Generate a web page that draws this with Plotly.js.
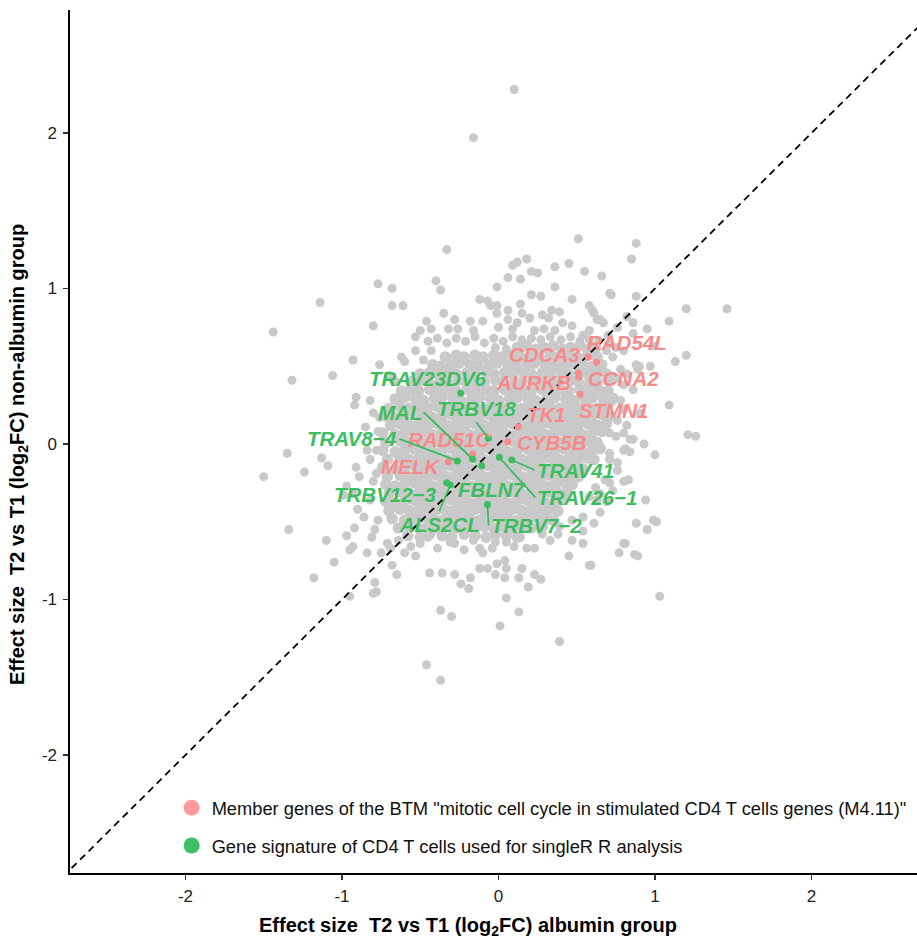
<!DOCTYPE html>
<html><head><meta charset="utf-8">
<script src="https://cdn.plot.ly/plotly-3.0.1.min.js"></script>
<style>html,body{margin:0;padding:0;background:#fff}#chart{width:917px;height:940px}</style>
</head><body><div id="chart"></div>
<script>
// ---- dense core of genes (x: albumin log2FC, y: non-albumin log2FC) ----
const coreUpper = [
[0.12,0.62],[0.18,0.63],[0.24,0.61],[0.29,0.62],[0.35,0.63],[0.41,0.61],[0.46,0.62],[0.52,0.63],[0.57,0.61],[0.62,0.62],
[-0.34,0.56],[-0.27,0.57],[-0.22,0.56],[-0.15,0.57],[-0.10,0.56],[-0.03,0.57],[0.02,0.56],[0.09,0.57],[0.14,0.56],[0.21,0.57],[0.26,0.56],[0.33,0.57],[0.38,0.56],[0.45,0.57],[0.50,0.56],[0.57,0.57],[0.63,0.56],
[-0.42,0.51],[-0.37,0.50],[-0.30,0.51],[-0.25,0.52],[-0.18,0.51],[-0.13,0.50],[-0.06,0.51],[-0.01,0.52],[0.06,0.51],[0.11,0.50],[0.18,0.51],[0.23,0.52],[0.30,0.51],[0.35,0.50],[0.42,0.51],[0.47,0.52],[0.54,0.51],[0.60,0.50],[0.66,0.51],
[-0.50,0.45],[-0.44,0.46],[-0.39,0.45],[-0.32,0.46],[-0.27,0.45],[-0.20,0.46],[-0.15,0.45],[-0.08,0.46],[-0.03,0.45],[0.04,0.46],[0.09,0.45],[0.16,0.46],[0.21,0.45],[0.28,0.46],[0.33,0.45],[0.40,0.46],[0.45,0.45],[0.52,0.46],[0.57,0.45],[0.63,0.46],[0.69,0.45],
[-0.56,0.40],[-0.50,0.41],[-0.45,0.40],[-0.38,0.39],[-0.33,0.40],[-0.26,0.41],[-0.21,0.40],[-0.14,0.39],[-0.09,0.40],[-0.02,0.41],[0.03,0.40],[0.10,0.39],[0.15,0.40],[0.22,0.41],[0.27,0.40],[0.34,0.39],[0.39,0.40],[0.46,0.41],[0.51,0.40],[0.58,0.39],[0.63,0.40],[0.70,0.41],
[-0.62,0.34],[-0.56,0.35],[-0.51,0.34],[-0.44,0.35],[-0.39,0.34],[-0.32,0.35],[-0.27,0.34],[-0.20,0.35],[-0.15,0.34],[-0.08,0.35],[-0.03,0.34],[0.04,0.35],[0.09,0.34],[0.16,0.35],[0.21,0.34],[0.28,0.35],[0.33,0.34],[0.40,0.35],[0.45,0.34],[0.52,0.35],[0.57,0.34],[0.64,0.35],[0.70,0.34],
[-0.66,0.29],[-0.60,0.30],[-0.53,0.29],[-0.48,0.28],[-0.41,0.29],[-0.36,0.30],[-0.29,0.29],[-0.24,0.28],[-0.17,0.29],[-0.12,0.30],[-0.05,0.29],[0.00,0.28],[0.07,0.29],[0.12,0.30],[0.19,0.29],[0.24,0.28],[0.31,0.29],[0.36,0.30],[0.43,0.29],[0.48,0.28],[0.55,0.29],[0.60,0.30],[0.67,0.29],[0.72,0.28],
[-0.70,0.23],[-0.63,0.24],[-0.57,0.23],[-0.51,0.24],[-0.45,0.23],[-0.39,0.24],[-0.33,0.23],[-0.27,0.24],[-0.21,0.23],[-0.15,0.24],[-0.09,0.23],[-0.03,0.24],[0.03,0.23],[0.09,0.24],[0.15,0.23],[0.21,0.24],[0.27,0.23],[0.33,0.24],[0.39,0.23],[0.45,0.24],[0.51,0.23],[0.57,0.24],[0.63,0.23],[0.69,0.24],
[-0.72,0.18],[-0.66,0.17],[-0.60,0.18],[-0.54,0.19],[-0.48,0.18],[-0.42,0.17],[-0.36,0.18],[-0.30,0.19],[-0.24,0.18],[-0.18,0.17],[-0.12,0.18],[-0.06,0.19],[0.00,0.18],[0.06,0.17],[0.12,0.18],[0.18,0.19],[0.24,0.18],[0.30,0.17],[0.36,0.18],[0.42,0.19],[0.48,0.18],[0.54,0.17],[0.60,0.18],[0.66,0.19],[0.72,0.18]
];
const coreMiddle = [
[-0.69,0.12],[-0.63,0.13],[-0.57,0.12],[-0.51,0.13],[-0.45,0.12],[-0.39,0.13],[-0.33,0.12],[-0.27,0.13],[-0.21,0.12],[-0.15,0.13],[-0.09,0.12],[-0.03,0.13],[0.03,0.12],[0.09,0.13],[0.15,0.12],[0.21,0.13],[0.27,0.12],[0.33,0.13],[0.39,0.12],[0.45,0.13],[0.51,0.12],[0.57,0.13],[0.63,0.12],[0.69,0.13],
[-0.74,0.07],[-0.66,0.06],[-0.60,0.07],[-0.54,0.08],[-0.48,0.07],[-0.42,0.06],[-0.36,0.07],[-0.30,0.08],[-0.24,0.07],[-0.18,0.06],[-0.12,0.07],[-0.06,0.08],[0.00,0.07],[0.06,0.06],[0.12,0.07],[0.18,0.08],[0.24,0.07],[0.30,0.06],[0.36,0.07],[0.42,0.08],[0.48,0.07],[0.54,0.06],[0.60,0.07],[0.66,0.08],
[-0.72,0.01],[-0.63,0.02],[-0.57,0.01],[-0.51,0.02],[-0.45,0.01],[-0.39,0.02],[-0.33,0.01],[-0.27,0.02],[-0.21,0.01],[-0.15,0.02],[-0.09,0.01],[-0.03,0.02],[0.03,0.01],[0.09,0.02],[0.15,0.01],[0.21,0.02],[0.27,0.01],[0.33,0.02],[0.39,0.01],[0.45,0.02],[0.51,0.01],[0.57,0.02],[0.63,0.01],
[-0.74,-0.04],[-0.66,-0.05],[-0.60,-0.04],[-0.54,-0.03],[-0.48,-0.04],[-0.42,-0.05],[-0.36,-0.04],[-0.30,-0.03],[-0.24,-0.04],[-0.18,-0.05],[-0.12,-0.04],[-0.06,-0.03],[0.00,-0.04],[0.06,-0.05],[0.12,-0.04],[0.18,-0.03],[0.24,-0.04],[0.30,-0.05],[0.36,-0.04],[0.42,-0.03],[0.48,-0.04],[0.54,-0.05],[0.60,-0.04],[0.65,-0.03],
[-0.71,-0.10],[-0.63,-0.09],[-0.57,-0.10],[-0.51,-0.09],[-0.45,-0.10],[-0.39,-0.09],[-0.33,-0.10],[-0.27,-0.09],[-0.21,-0.10],[-0.15,-0.09],[-0.09,-0.10],[-0.03,-0.09],[0.03,-0.10],[0.09,-0.09],[0.15,-0.10],[0.21,-0.09],[0.27,-0.10],[0.33,-0.09],[0.39,-0.10],[0.45,-0.09],[0.51,-0.10],[0.57,-0.09],[0.61,-0.10],
[-0.74,-0.15],[-0.66,-0.16],[-0.60,-0.15],[-0.54,-0.14],[-0.48,-0.15],[-0.42,-0.16],[-0.36,-0.15],[-0.30,-0.14],[-0.24,-0.15],[-0.18,-0.16],[-0.12,-0.15],[-0.06,-0.14],[0.00,-0.15],[0.06,-0.16],[0.12,-0.15],[0.18,-0.14],[0.24,-0.15],[0.30,-0.16],[0.36,-0.15],[0.42,-0.14],[0.48,-0.15],[0.54,-0.16]
];
const coreLower = [
[-0.71,-0.21],[-0.63,-0.20],[-0.57,-0.21],[-0.51,-0.20],[-0.45,-0.21],[-0.39,-0.20],[-0.33,-0.21],[-0.27,-0.20],[-0.21,-0.21],[-0.15,-0.20],[-0.09,-0.21],[-0.03,-0.20],[0.03,-0.21],[0.09,-0.20],[0.15,-0.21],[0.21,-0.20],[0.27,-0.21],[0.33,-0.20],[0.39,-0.21],[0.45,-0.20],[0.51,-0.21],
[-0.72,-0.26],[-0.66,-0.27],[-0.60,-0.26],[-0.54,-0.25],[-0.48,-0.26],[-0.42,-0.27],[-0.36,-0.26],[-0.30,-0.25],[-0.24,-0.26],[-0.18,-0.27],[-0.12,-0.26],[-0.06,-0.25],[0.00,-0.26],[0.06,-0.27],[0.12,-0.26],[0.18,-0.25],[0.24,-0.26],[0.30,-0.27],[0.36,-0.26],[0.42,-0.25],[0.47,-0.26],
[-0.70,-0.32],[-0.63,-0.31],[-0.57,-0.32],[-0.51,-0.31],[-0.45,-0.32],[-0.39,-0.31],[-0.33,-0.32],[-0.27,-0.31],[-0.21,-0.32],[-0.15,-0.31],[-0.09,-0.32],[-0.03,-0.31],[0.03,-0.32],[0.09,-0.31],[0.15,-0.32],[0.21,-0.31],[0.27,-0.32],[0.33,-0.31],[0.39,-0.32],[0.44,-0.31],
[-0.72,-0.37],[-0.66,-0.38],[-0.60,-0.37],[-0.54,-0.36],[-0.48,-0.37],[-0.42,-0.38],[-0.36,-0.37],[-0.30,-0.36],[-0.24,-0.37],[-0.18,-0.38],[-0.12,-0.37],[-0.06,-0.36],[0.00,-0.37],[0.06,-0.38],[0.12,-0.37],[0.18,-0.36],[0.24,-0.37],[0.30,-0.38],[0.36,-0.37],[0.41,-0.36],
[-0.70,-0.43],[-0.63,-0.42],[-0.57,-0.43],[-0.51,-0.42],[-0.45,-0.43],[-0.39,-0.42],[-0.33,-0.43],[-0.27,-0.42],[-0.21,-0.43],[-0.15,-0.42],[-0.09,-0.43],[-0.03,-0.42],[0.03,-0.43],[0.09,-0.42],[0.15,-0.43],[0.21,-0.42],[0.27,-0.43],[0.33,-0.42],[0.38,-0.43],
[-0.68,-0.48],[-0.60,-0.49],[-0.54,-0.48],[-0.48,-0.47],[-0.42,-0.48],[-0.36,-0.49],[-0.30,-0.48],[-0.24,-0.47],[-0.18,-0.48],[-0.12,-0.49],[-0.06,-0.48],[0.00,-0.47],[0.06,-0.48],[0.12,-0.49],[0.18,-0.48],[0.24,-0.47],[0.30,-0.48],[0.35,-0.49],
[-0.64,-0.54],[-0.57,-0.53],[-0.51,-0.54],[-0.45,-0.53],[-0.39,-0.54],[-0.33,-0.53],[-0.27,-0.54],[-0.21,-0.53],[-0.15,-0.54],[-0.09,-0.53],[-0.03,-0.54],[0.03,-0.53],[0.09,-0.54],[0.15,-0.53],[0.21,-0.54],[0.28,-0.53],
[-0.58,-0.59],[-0.50,-0.60],[-0.44,-0.58],[-0.36,-0.59],[-0.30,-0.60],[-0.22,-0.58],[-0.15,-0.59],[-0.08,-0.60],[-0.02,-0.58],[0.05,-0.59],[0.12,-0.60]
];
// ---- scattered genes around the core ----
const fringeGenes = [
[-0.50,0.73],[-0.46,0.79],[-0.43,0.74],[-0.35,0.84],[-0.28,0.80],[-0.18,0.79],[-0.10,0.79],[-0.01,0.84],[-0.53,0.69],[-0.32,0.74],[-0.26,0.74],[0.06,0.80],[0.12,0.78],[0.23,0.73],[0.29,0.74],[0.36,0.73],[0.47,0.76],[0.54,0.70],[0.58,0.73],[0.63,0.80],[0.67,0.78],[0.76,0.75],[0.82,0.82],[0.95,0.74],[0.06,0.86],[0.15,0.84],[0.20,0.81],[0.28,0.83],[0.34,0.86],[0.39,0.85],[0.32,0.81],[0.58,0.89],[0.60,0.86],[-0.12,0.93],[-0.07,0.92],[-0.05,0.89],[-0.01,0.89],[0.14,0.90],[0.41,0.78],[0.61,0.84],[0.65,0.80],
[-0.45,0.66],[-0.39,0.68],[-0.33,0.65],[-0.27,0.68],[-0.21,0.66],[-0.15,0.69],[-0.09,0.65],[-0.03,0.68],[0.03,0.66],[0.09,0.69],[0.15,0.67],[0.21,0.68],[0.27,0.67],[0.33,0.69],[0.40,0.67],[0.46,0.69],[0.52,0.66],[0.58,0.67],[0.64,0.66],[0.70,0.64],[0.70,0.70],[0.09,0.74],[-0.16,0.73],[0.00,0.75],[0.75,0.62],[-0.02,0.62],[0.05,0.61],
[-0.62,0.56],[-0.60,0.53],[-0.53,0.60],[-0.48,0.54],[-0.43,0.60],[-0.76,0.51],[-0.70,0.44],[-0.66,0.40],[-0.91,0.30],[-0.82,0.28],[-0.92,0.25],[-0.80,0.20],[-0.76,0.17],[-0.85,0.11],[-0.77,0.08],[-0.84,-0.04],[-0.78,-0.04],[-0.91,-0.15],[-0.78,-0.19],[-0.82,-0.10],[-0.93,-0.32],[-0.82,-0.36],[-0.97,-0.27],[-0.89,-0.21],[-0.80,-0.24],[-0.86,-0.47],[-0.77,-0.49],[-0.90,-0.42],[-0.92,-0.54],[-0.97,-0.59],[-0.79,-0.55],[-0.81,-0.60],[-0.93,-0.66],[-0.84,-0.70],[-0.71,-0.64],[-0.75,-0.70],[-0.69,-0.67],[-0.64,-0.62],
[-0.68,-0.78],[-0.65,-0.84],[-0.79,-0.89],[-0.78,-0.95],[-0.53,-0.72],[-0.44,-0.83],[-0.36,-0.83],[-0.28,-0.84],[-0.24,-0.90],[-0.19,-0.93],[-0.18,-0.86],[-0.12,-0.80],[-0.07,-0.80],[-0.01,-0.77],[0.04,-0.75],[0.05,-0.80],[-0.02,-0.84],[0.04,-0.86],[0.15,-0.80],[0.13,-0.86],[0.19,-0.92],[0.23,-0.84],[0.27,-0.87],
[-0.39,-0.67],[-0.31,-0.63],[-0.22,-0.68],[-0.12,-0.67],[-0.10,-0.70],[-0.04,-0.67],[-0.02,-0.63],[0.10,-0.66],[0.18,-0.67],[0.23,-0.67],[0.33,-0.62],[0.47,-0.62],[0.54,-0.64],[0.45,-0.72],[0.59,-0.78],[-0.50,-0.64],[-0.45,-0.60],[-0.56,-0.66],[-0.28,-0.64],[-0.16,-0.62],[0.05,-0.63],[0.14,-0.60],[0.28,-0.58],[0.38,-0.58],[-0.60,-0.70],
[0.63,-0.36],[0.69,-0.37],[0.65,-0.44],[0.54,-0.56],[0.47,-0.49],[0.39,-0.53],[0.71,-0.25],[0.76,-0.17],[0.80,-0.04],[0.71,-0.10],[0.54,-0.47],[0.61,-0.51],[0.80,-0.24],[0.73,-0.30],[0.65,-0.32],[0.68,-0.23],[0.58,-0.34],[0.62,-0.28],
[0.88,0.51],[0.90,0.50],[0.97,0.50],[0.99,0.63],[0.80,0.38],[0.86,0.35],[0.76,0.15],[0.80,0.22],[0.71,0.07],[0.71,-0.06],[0.76,-0.12],[0.84,0.03],[0.81,-0.03],[0.86,0.03],[0.84,-0.05],[0.80,0.07],[0.72,0.43],[0.78,0.48],[0.73,0.56],[0.69,0.60],[0.89,0.48],[0.86,0.71],[0.86,0.78],[0.74,0.30],[0.78,0.28],[0.76,0.42],[0.82,0.45],[0.80,0.60],[0.90,0.20],[0.82,0.12],[0.75,0.05]
];
const outlierGenes = [
[0.10,2.28],[-0.16,1.97],[0.51,1.32],[0.88,1.29],[-0.33,1.25],[0.85,1.19],[0.09,1.15],[0.12,1.17],[0.18,1.19],[0.36,1.14],[0.45,1.16],[0.21,1.11],[0.25,1.10],[0.55,1.11],[0.66,1.08],[-0.77,1.03],[-0.68,1.00],[-0.40,1.05],[-0.37,0.99],[-0.01,1.01],[0.06,1.07],[0.14,1.06],[0.36,1.01],[0.21,0.96],[0.27,0.95],[0.47,0.93],[0.72,0.96],[0.71,0.97],[0.88,0.95],[1.20,0.87],[1.46,0.87],[1.09,0.79],[-0.68,0.89],[-0.61,0.89],[-0.80,0.76],
[-1.44,0.72],[-1.14,0.91],[-0.93,0.54],[-1.06,0.44],[-1.32,0.41],[-1.35,-0.06],[-1.13,-0.09],[-1.09,-0.14],[-1.24,-0.18],[-1.50,-0.21],[-0.99,-0.33],[-1.34,-0.55],[-1.10,-0.62],[-1.18,-0.86],[-1.05,-0.76],[-0.95,-0.68],[-0.95,-0.98],[-0.80,-0.96],
[-0.46,-1.42],[-0.37,-1.52],[0.39,-1.27],[0.13,-1.08],[0.01,-1.17],[0.05,-0.99],[-0.37,-1.07],[-0.30,-1.11],
[0.77,-0.70],[0.81,-0.64],[0.89,-0.72],[0.87,-0.71],[1.03,-0.98],[1.01,-0.50],[0.94,-0.36],[0.83,-0.23],[0.93,0.00],[1.00,-0.07],[0.88,-0.51],[0.95,-0.55],[0.99,-0.49],[0.80,-0.64],[0.58,-0.78],
[1.13,0.53],[1.20,0.57],[1.09,0.25],[1.21,0.06],[1.26,0.05]
];
// ---- highlighted genes ----
const btmGenes = ['RAD54L','CDCA3','AURKB','CCNA2','STMN1','TK1','CYB5B','RAD51C','MELK'];
const btmX = [0.627,0.572,0.510,0.512,0.521,0.127,0.059,-0.165,-0.321];
const btmY = [0.525,0.559,0.457,0.431,0.320,0.111,0.015,-0.064,-0.114];
const cd4Genes = ['TRAV23DV6','TRBV18','MAL','TRAV8\u22124','FBLN7','TRAV26\u22121','TRAV41','TRBV12\u22123','ALS2CL','TRBV7\u22122'];
const cd4X = [-0.242,-0.065,-0.165,-0.263,-0.107,0.005,0.084,-0.331,-0.308,-0.070];
const cd4Y = [0.326,0.037,-0.098,-0.109,-0.140,-0.086,-0.103,-0.249,-0.264,-0.389];
const legendNames = ['Member genes of the BTM "mitotic cell cycle in stimulated CD4 T cells genes (M4.11)"','Gene signature of CD4 T cells used for singleR R analysis'];
const xTicks = [-2,-1,0,1,2];
const yTicks = [-2,-1,0,1,2];

// ---- label placement (pixel offsets, style only) ----
const btmPlace = [
  {dx:30,dy:-20},{dx:-44,dy:-3},{dx:-45,dy:10},{dx:45,dy:2},{dx:33,dy:16},
  {dx:28,dy:-12},{dx:44,dy:1},{dx:-23,dy:-14},{dx:-37,dy:5}
];
const cd4Place = [
  {dx:-33,dy:-15},
  {seg:true,dx:-12,dy:-16,xa:'center',ya:'bottom'},
  {seg:true,dx:-49,dy:-47,xa:'right',ya:'middle'},
  {seg:true,dx:-58,dy:-22,xa:'right',ya:'middle'},
  {dx:10,dy:24},
  {seg:true,dx:36,dy:40,xa:'left',ya:'middle'},
  {seg:true,dx:23,dy:10,xa:'left',ya:'middle'},
  {dx:-61,dy:12},
  {seg:true,dx:-11,dy:26,xa:'center',ya:'top'},
  {seg:true,dx:1,dy:21,xa:'left',ya:'middle'}
];

const FONT = 'Liberation Sans, Arial, Helvetica, sans-serif';
const GREY = '#C9C9C9';
const PINK = '#F98A8A';
const GREEN = '#3CBE5F';

const core = [].concat(coreUpper, coreMiddle, coreLower);
const scattered = [].concat(fringeGenes, outlierGenes);

const traces = [
  {type:'scatter', mode:'markers', x:scattered.map(p=>p[0]), y:scattered.map(p=>p[1]),
   marker:{color:GREY, size:9}, showlegend:false, hoverinfo:'skip'},
  {type:'scatter', mode:'markers', x:core.map(p=>p[0]), y:core.map(p=>p[1]),
   marker:{color:GREY, size:11.5}, showlegend:false, hoverinfo:'skip'},
  {type:'scatter', mode:'lines', x:[-3,3], y:[-3,3], line:{color:'#000', width:1.8, dash:'7px,5px'},
   showlegend:false, hoverinfo:'skip'},
  {type:'scatter', mode:'markers', x:btmX, y:btmY, text:btmGenes, marker:{color:PINK, size:7},
   showlegend:false},
  {type:'scatter', mode:'markers', x:cd4X, y:cd4Y, text:cd4Genes, marker:{color:GREEN, size:7},
   showlegend:false},
  {type:'scatter', mode:'markers', x:[null], y:[null], name:legendNames[0], legendgroup:'a',
   marker:{color:'#FF9A9A', size:20}},
  {type:'scatter', mode:'markers', x:[null], y:[null], name:legendNames[1], legendgroup:'b',
   marker:{color:'#3CC063', size:20}}
];

function labelAnn(x, y, text, color, p) {
  const a = {x:x, y:y, xref:'x', yref:'y', text:text,
    font:{family:FONT, size:20.5, color:color, weight:'bold', style:'italic'}};
  if (p.seg) {
    Object.assign(a, {showarrow:true, arrowhead:0, arrowwidth:1.8, arrowcolor:color,
      ax:p.dx, ay:p.dy, xanchor:p.xa, yanchor:p.ya, standoff:0, startstandoff:0});
  } else {
    Object.assign(a, {showarrow:false, xshift:p.dx, yshift:-p.dy});
  }
  return a;
}
const annotations = [];
btmGenes.forEach((g,i)=>annotations.push(labelAnn(btmX[i], btmY[i], g, PINK, btmPlace[i])));
cd4Genes.forEach((g,i)=>annotations.push(labelAnn(cd4X[i], cd4Y[i], g, GREEN, cd4Place[i])));
annotations.push({xref:'paper', yref:'paper', x:0.47, y:-0.0615, showarrow:false,
  text:'<b>Effect size&nbsp; T2 vs T1 (log<sub>2</sub>FC) albumin group</b>',
  font:{family:FONT, size:20, color:'#000'}, xanchor:'center', yanchor:'middle'});
annotations.push({xref:'paper', yref:'paper', x:-0.0614, y:0.4855, showarrow:false, textangle:-90,
  text:'<b>Effect size&nbsp; T2 vs T1 (log<sub>2</sub>FC) non-albumin group</b>',
  font:{family:FONT, size:20, color:'#000'}, xanchor:'center', yanchor:'middle'});

const axisCommon = {showgrid:false, zeroline:false, showline:true, linecolor:'#000', linewidth:1.6,
  ticks:'outside', ticklen:5, tickwidth:1.2, tickcolor:'#333',
  tickfont:{family:FONT, size:17, color:'#222'}, fixedrange:true};

const layout = {
  width:917, height:940,
  margin:{l:70, r:0, t:10, b:67},
  paper_bgcolor:'#fff', plot_bgcolor:'#fff',
  xaxis:Object.assign({}, axisCommon, {range:[-2.738,2.674], tickvals:xTicks, ticktext:xTicks.map(String), ticklabelstandoff:2}),
  yaxis:Object.assign({}, axisCommon, {range:[-2.759,2.791], tickvals:yTicks, ticktext:yTicks.map(String), ticklabelstandoff:3}),
  showlegend:true,
  legend:{x:0.12, y:0.097, xanchor:'left', yanchor:'top', bgcolor:'rgba(0,0,0,0)',
    font:{family:FONT, size:18.3, color:'#111'}, traceorder:'grouped', tracegroupgap:11},
  annotations:annotations,
  hovermode:false
};

Plotly.newPlot('chart', traces, layout, {staticPlot:true, displayModeBar:false});
</script></body></html>
